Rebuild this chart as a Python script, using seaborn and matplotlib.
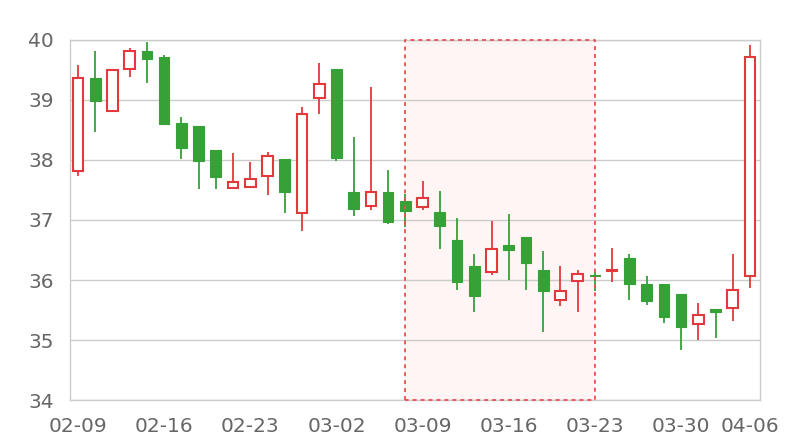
import matplotlib
matplotlib.use('Agg')
import matplotlib.pyplot as plt
import seaborn as sns
import numpy as np

# Данные свечей (читались с картинки)
dates = ['2015-02-09', '2015-02-10', '2015-02-11', '2015-02-12', '2015-02-13',
         '2015-02-16', '2015-02-17', '2015-02-18', '2015-02-19', '2015-02-20',
         '2015-02-23', '2015-02-24', '2015-02-25', '2015-02-26', '2015-02-27',
         '2015-03-02', '2015-03-03', '2015-03-04', '2015-03-05', '2015-03-06',
         '2015-03-09', '2015-03-10', '2015-03-11', '2015-03-12', '2015-03-13',
         '2015-03-16', '2015-03-17', '2015-03-18', '2015-03-19', '2015-03-20',
         '2015-03-23', '2015-03-24', '2015-03-25', '2015-03-26', '2015-03-27',
         '2015-03-30', '2015-03-31', '2015-04-01', '2015-04-02', '2015-04-06']

opens = [37.82, 39.36, 38.82, 39.51, 39.82, 39.71, 38.62, 38.56, 38.17, 37.53,
         37.55, 37.74, 38.01, 37.12, 39.03, 39.51, 37.46, 37.24, 37.47, 37.32,
         37.21, 37.14, 36.67, 36.23, 36.13, 36.59, 36.71, 36.16, 35.66, 35.99,
         36.09, 36.15, 36.37, 35.94, 35.94, 35.77, 35.26, 35.52, 35.53, 36.07]
closes = [39.36, 38.98, 39.50, 39.81, 39.68, 38.60, 38.20, 37.99, 37.71, 37.64,
          37.69, 38.07, 37.47, 38.76, 39.26, 38.03, 37.18, 37.46, 36.96, 37.15,
          37.36, 36.90, 35.96, 35.74, 36.52, 36.50, 36.28, 35.81, 35.82, 36.10,
          36.07, 36.17, 35.94, 35.65, 35.39, 35.21, 35.41, 35.46, 35.83, 39.71]
highs = [39.59, 39.82, 39.50, 39.87, 39.96, 39.75, 38.71, 38.56, 38.17, 38.11,
         37.97, 38.14, 38.01, 38.89, 39.61, 39.51, 38.38, 39.22, 37.83, 37.44,
         37.65, 37.48, 37.04, 36.44, 36.98, 37.10, 36.71, 36.49, 36.23, 36.16,
         36.14, 36.53, 36.43, 36.06, 35.94, 35.77, 35.61, 35.52, 36.43, 39.91]
lows = [37.73, 38.46, 38.82, 39.39, 39.28, 38.60, 38.02, 37.52, 37.52, 37.53,
        37.55, 37.42, 37.12, 36.82, 38.77, 37.99, 37.07, 37.16, 36.93, 36.88,
        37.17, 36.52, 35.83, 35.47, 36.08, 36.00, 35.84, 35.13, 35.56, 35.46,
        35.81, 35.96, 35.66, 35.59, 35.29, 34.84, 35.00, 35.04, 35.32, 35.87]

# выделенная область
area_start = '2015-03-06'
area_end = '2015-03-23'

UP = '#e4393c'
DOWN = '#36a137'
GRID = '#cccccc'
TEXT = '#666666'

sns.set_theme(style='white')
plt.rcParams['font.family'] = ['DejaVu Sans']

fig = plt.figure(figsize=(8, 4.4), dpi=100)
ax = fig.add_axes([0.088, 0.0909, 0.862, 0.8182])

x = np.arange(len(dates))
o = np.array(opens)
c = np.array(closes)
up = c >= o

# выделенная область
xa, xb = dates.index(area_start), dates.index(area_end)
ax.axvspan(xa, xb, facecolor='#fff5f5', edgecolor='none', zorder=0)
ax.plot([xa, xa, xb, xb, xa], [34, 40, 40, 34, 34], color='#ea4f52',
        lw=1.3, ls=(0, (2.2, 2.2)), zorder=4, clip_on=False)

# тени
ax.vlines(x, lows, highs, colors=np.where(up, UP, DOWN), lw=1.3, zorder=2)

# тела
w = 0.62
bottoms = np.minimum(o, c)
heights = np.maximum(np.abs(c - o), 0.02)
ax.bar(x[~up], heights[~up], bottom=bottoms[~up], width=w, color=DOWN,
       edgecolor=DOWN, lw=0.8, zorder=3)
ax.bar(x[up], heights[up], bottom=bottoms[up], width=w, color='white',
       edgecolor=UP, lw=1.5, zorder=3)

ax.set_ylim(34, 40)
ax.set_xlim(-0.44, len(dates) - 1 + 0.58)
ax.set_yticks(range(34, 41))
ax.yaxis.grid(True, color=GRID, lw=1, zorder=1)
ax.set_axisbelow(True)

mondays = [i for i, d in enumerate(dates) if np.datetime64(d).astype('datetime64[D]').item().weekday() == 0]
ax.set_xticks(mondays)
ax.set_xticklabels([dates[i][5:] for i in mondays])

for s in ax.spines.values():
    s.set_color(GRID)
    s.set_linewidth(1)

ax.tick_params(axis='both', length=0, labelsize=14.5, labelcolor=TEXT)
ax.tick_params(axis='y', pad=12)
ax.tick_params(axis='x', pad=12)

fig.savefig('out.png', dpi=100)
